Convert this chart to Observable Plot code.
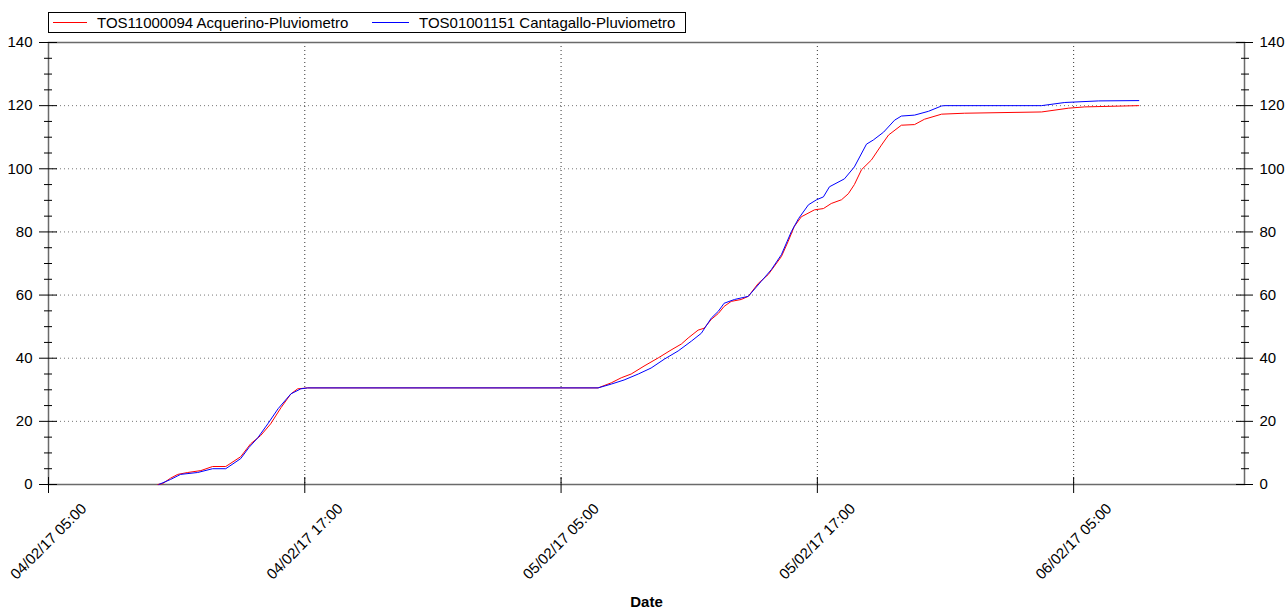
<!DOCTYPE html>
<html>
<head>
<meta charset="utf-8">
<script src="https://cdn.jsdelivr.net/npm/d3@7"></script>
<script src="https://cdn.jsdelivr.net/npm/@observablehq/plot@0.6"></script>
<style>
  body { margin: 0; background: #fff; font-family: "Liberation Sans", Arial, sans-serif; }
  #wrap { position: relative; width: 1286px; height: 607px; }
  #legend { position: absolute; left: 48px; top: 12px; width: 636px; height: 19px; border: 1px solid #000; background: #fff; font-size: 15px; color: #000; }
  #legend .sw { position: absolute; top: 9px; height: 1px; }
  #legend .lb { position: absolute; top: 0; line-height: 19px; white-space: nowrap; }
</style>
</head>
<body>
<div id="wrap"><div id="legend"></div></div>
<script>
// ---------------- data ----------------
const seriesNames = ["TOS11000094 Acquerino-Pluviometro", "TOS01001151 Cantagallo-Pluviometro"];
const seriesColors = ["#ff0000", "#0000ff"];

const redTimes = [
  "2017-02-04T10:07","2017-02-04T10:21","2017-02-04T10:43","2017-02-04T11:03","2017-02-04T11:31",
  "2017-02-04T12:08","2017-02-04T12:41","2017-02-04T13:18","2017-02-04T14:00","2017-02-04T14:28",
  "2017-02-04T14:56","2017-02-04T15:24","2017-02-04T15:53","2017-02-04T16:21","2017-02-04T16:40",
  "2017-02-04T17:08","2017-02-05T06:44","2017-02-05T07:21","2017-02-05T07:49","2017-02-05T08:17",
  "2017-02-05T08:53","2017-02-05T09:33","2017-02-05T10:09","2017-02-05T10:38","2017-02-05T10:57",
  "2017-02-05T11:25","2017-02-05T11:42","2017-02-05T12:02","2017-02-05T12:22","2017-02-05T12:38",
  "2017-02-05T12:58","2017-02-05T13:26","2017-02-05T13:46","2017-02-05T14:14","2017-02-05T14:42",
  "2017-02-05T15:19","2017-02-05T15:38","2017-02-05T15:55","2017-02-05T16:15","2017-02-05T16:52",
  "2017-02-05T17:17","2017-02-05T17:39","2017-02-05T18:08","2017-02-05T18:27","2017-02-05T18:44",
  "2017-02-05T19:04","2017-02-05T19:32","2017-02-05T20:00","2017-02-05T20:20","2017-02-05T20:56",
  "2017-02-05T21:33","2017-02-05T22:01","2017-02-05T22:49","2017-02-05T23:53","2017-02-06T03:30",
  "2017-02-06T04:46","2017-02-06T05:31","2017-02-06T08:03"
];
const redValues = [
  0, 0.3, 2.0, 3.2, 3.8,
  4.4, 5.7, 5.7, 8.8, 12.9,
  15.5, 19.2, 24.3, 28.7, 30.3,
  30.6, 30.6, 32.2, 33.8, 35.0,
  37.5, 40.1, 42.6, 44.5, 46.4,
  48.9, 49.5, 52.3, 54.2, 56.4,
  58.0, 58.6, 59.6, 63.7, 66.5,
  72.2, 77.0, 81.7, 84.8, 87.0,
  87.4, 89.0, 90.2, 92.1, 95.0,
  99.7, 102.8, 107.5, 110.7, 113.8,
  114.0, 115.7, 117.3, 117.6, 118.0,
  119.2, 119.6, 120.0
];

const blueTimes = [
  "2017-02-04T10:10","2017-02-04T10:43","2017-02-04T11:11","2017-02-04T11:59","2017-02-04T12:41",
  "2017-02-04T13:18","2017-02-04T14:00","2017-02-04T14:23","2017-02-04T14:48","2017-02-04T15:16",
  "2017-02-04T15:45","2017-02-04T16:21","2017-02-04T16:49","2017-02-04T17:08","2017-02-05T06:44",
  "2017-02-05T07:21","2017-02-05T07:57","2017-02-05T08:37","2017-02-05T09:13","2017-02-05T09:50",
  "2017-02-05T10:29","2017-02-05T11:06","2017-02-05T11:34","2017-02-05T12:02","2017-02-05T12:22",
  "2017-02-05T12:38","2017-02-05T13:07","2017-02-05T13:46","2017-02-05T14:22","2017-02-05T14:51",
  "2017-02-05T15:19","2017-02-05T15:47","2017-02-05T16:07","2017-02-05T16:35","2017-02-05T16:58",
  "2017-02-05T17:17","2017-02-05T17:34","2017-02-05T18:16","2017-02-05T18:44","2017-02-05T19:18",
  "2017-02-05T19:37","2017-02-05T20:06","2017-02-05T20:37","2017-02-05T20:56","2017-02-05T21:33",
  "2017-02-05T22:12","2017-02-05T22:49","2017-02-05T22:57","2017-02-06T03:30","2017-02-06T04:35",
  "2017-02-06T06:10","2017-02-06T08:03"
];
const blueValues = [
  0, 1.6, 3.2, 3.8, 5.0,
  5.0, 8.2, 11.7, 14.8, 19.2,
  24.0, 28.7, 30.3, 30.6, 30.6,
  31.8, 33.1, 35.0, 36.9, 39.7,
  42.3, 45.4, 47.9, 52.7, 54.9,
  57.4, 58.6, 59.6, 64.3, 68.1,
  72.8, 80.1, 84.2, 88.6, 90.2,
  91.1, 94.3, 96.8, 100.6, 107.8,
  109.1, 111.6, 115.4, 116.7, 117.0,
  118.2, 119.9, 120.0, 120.0, 121.0,
  121.5, 121.6
];

const xDomain = ["2017-02-04T05:00", "2017-02-06T13:00"];
const xMajor = ["2017-02-04T05:00","2017-02-04T17:00","2017-02-05T05:00","2017-02-05T17:00","2017-02-06T05:00"];
const xLabels = ["04/02/17 05:00","04/02/17 17:00","05/02/17 05:00","05/02/17 17:00","06/02/17 05:00"];
const yMajor = [0, 20, 40, 60, 80, 100, 120, 140];
const yGridValues = [20, 40, 60, 80, 100, 120];
const axisTitle = "Date";

// ---------------- build ----------------
const parse = s => new Date(s + ":00Z");
const toRows = (times, values, k) => times.map((t, i) => ({date: parse(t), value: values[i], series: seriesNames[k]}));
const red = toRows(redTimes, redValues, 0);
const blue = toRows(blueTimes, blueValues, 1);

const majorDates = xMajor.map(parse);
const majorSet = new Set(majorDates.map(d => +d));
const dom = xDomain.map(parse);
const allTwoHour = d3.utcHour.every(2).range(dom[0], new Date(+dom[1] + 1)).filter(d => d.getUTCHours() % 2 === 1);
const xMinor = allTwoHour.filter(d => !majorSet.has(+d));
const yMinor = d3.range(5, 141, 5).filter(v => v % 20 !== 0);
const labelOf = d => xLabels[majorDates.findIndex(m => +m === +d)];

const plot = Plot.plot({
  width: 1286,
  height: 607,
  marginLeft: 48,
  marginRight: 42,
  marginTop: 42,
  marginBottom: 123,
  style: {fontFamily: "'Liberation Sans', Arial, sans-serif", fontSize: "15px", color: "#000", background: "#fff", overflow: "visible"},
  x: {type: "utc", domain: dom, label: null},
  y: {domain: [0, 140], label: null},
  marks: [
    Plot.gridY(yGridValues, {stroke: "#777", strokeOpacity: 1, strokeDasharray: "1,3"}),
    Plot.gridX(majorDates.slice(1), {stroke: "#333", strokeOpacity: 1, strokeDasharray: "1,3"}),
    Plot.frame({stroke: "#6a6a6a", strokeWidth: 1.5}),
    // left axis
    Plot.axisY(yMajor, {anchor: "left", tickSize: 18, dx: 9, fill: "none", stroke: "#000"}),
    Plot.axisY(yMinor, {anchor: "left", tickSize: 8, dx: 4, fill: "none", stroke: "#000"}),
    Plot.axisY(yMajor, {anchor: "left", tickSize: 0, tickPadding: 16, fontSize: 15, tickFormat: d => String(d)}),
    // right axis
    Plot.axisY(yMajor, {anchor: "right", tickSize: 17, dx: -9, fill: "none", stroke: "#000"}),
    Plot.axisY(yMinor, {anchor: "right", tickSize: 8, dx: -4, fill: "none", stroke: "#000"}),
    Plot.axisY(yMajor, {anchor: "right", tickSize: 0, tickPadding: 15, fontSize: 15, tickFormat: d => String(d)}),
    // bottom axis
    Plot.axisX(majorDates, {anchor: "bottom", tickSize: 16, dy: -7, fill: "none", stroke: "#000"}),
    Plot.axisX(xMinor, {anchor: "bottom", tickSize: 8, dy: -3, fill: "none", stroke: "#000"}),
    Plot.axisX(majorDates, {anchor: "bottom", tickSize: 0, tickPadding: 57, tickRotate: -45, textAnchor: "middle", lineAnchor: "middle", fontSize: 15, tickFormat: labelOf}),
    // top axis minor ticks
    Plot.axisX(allTwoHour, {anchor: "top", tickSize: 4, dy: 4, fill: "none", stroke: "#000"}),
    // series
    Plot.line(red, {x: "date", y: "value", stroke: seriesColors[0], strokeWidth: 1}),
    Plot.line(blue, {x: "date", y: "value", stroke: seriesColors[1], strokeWidth: 1}),
    Plot.text([axisTitle], {text: d => d, frameAnchor: "bottom", dy: 122, lineAnchor: "bottom", fontWeight: "bold", fontSize: 15})
  ]
});

const wrap = document.getElementById("wrap");
wrap.insertBefore(plot, wrap.firstChild);
plot.style.position = "absolute";
plot.style.left = "0px";
plot.style.top = "0px";

// legend
const legend = document.getElementById("legend");
const legendLayout = [{sw: 4, swW: 34, lb: 48}, {sw: 323, swW: 37, lb: 370}];
seriesNames.forEach((name, i) => {
  const sw = document.createElement("div");
  sw.className = "sw";
  sw.style.left = legendLayout[i].sw + "px";
  sw.style.width = legendLayout[i].swW + "px";
  sw.style.background = seriesColors[i];
  legend.appendChild(sw);
  const lb = document.createElement("div");
  lb.className = "lb";
  lb.style.left = legendLayout[i].lb + "px";
  lb.textContent = name;
  legend.appendChild(lb);
});
</script>
</body>
</html>
